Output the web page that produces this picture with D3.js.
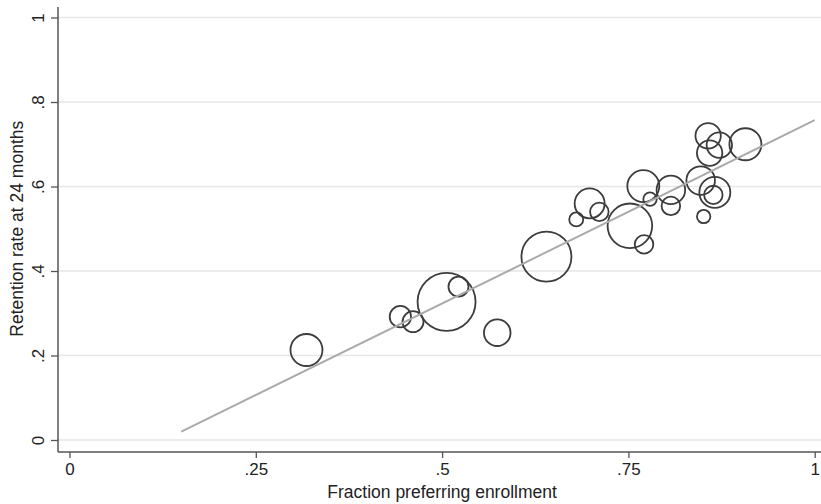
<!DOCTYPE html>
<html>
<head>
<meta charset="utf-8">
<script src="https://cdn.jsdelivr.net/npm/d3@7"></script>
<style>
  body { margin: 0; background: #fff; }
  text { font-family: "Liberation Sans", Arial, Helvetica, sans-serif; fill: #222; }
</style>
</head>
<body>
<div id="chart-area"></div>
<script>
// fraction preferring enrollment, retention at 24 months, group size (bubble weight)
var fracPref = [0.318, 0.444, 0.461, 0.506, 0.522, 0.574, 0.640, 0.680, 0.698, 0.711, 0.752, 0.771,
                0.770, 0.779, 0.807, 0.807, 0.847, 0.866, 0.864, 0.851, 0.857, 0.872, 0.859, 0.907];
var retention = [0.213, 0.292, 0.280, 0.327, 0.363, 0.254, 0.434, 0.522, 0.560, 0.540, 0.507, 0.463,
                 0.601, 0.570, 0.592, 0.554, 0.614, 0.586, 0.580, 0.529, 0.720, 0.698, 0.679, 0.700];
var weight = [256, 114, 110, 841, 100, 177, 625, 49, 225, 86, 497, 86,
              256, 45, 204, 86, 204, 240, 85, 45, 161, 161, 161, 256];

// fitted line: retention = a + b * frac, drawn from x = .15 to 1
var fitA = -0.1105, fitB = 0.8675;
var fitX = [0.15, 1];

var xTicks = [0, 0.25, 0.5, 0.75, 1];
var xTickLabels = ["0", ".25", ".5", ".75", "1"];
var yTicks = [0, 0.2, 0.4, 0.6, 0.8, 1];
var yTickLabels = ["0", ".2", ".4", ".6", ".8", "1"];

var width = 821, height = 504;
var svg = d3.select("#chart-area").append("svg")
  .attr("width", width)
  .attr("height", height);

var x = d3.scaleLinear().domain([0, 1]).range([69.5, 814.7]);
var y = d3.scaleLinear().domain([0, 1]).range([440, 17.5]);
var r = d3.scaleSqrt().domain([0, 841]).range([0, 29]);

var axisLeft = 58, axisBottom = 452, plotRight = 821, plotTop = 7;

// gridlines
svg.append("g").selectAll("line").data(yTicks).enter().append("line")
  .attr("x1", axisLeft).attr("x2", plotRight)
  .attr("y1", function(d) { return y(d); }).attr("y2", function(d) { return y(d); })
  .attr("stroke", "#e6e6e6").attr("stroke-width", 1.5);

// y axis
var yAxis = d3.axisLeft(y).tickValues(yTicks).tickSize(7).tickPadding(6)
  .tickFormat(function(d, i) { return yTickLabels[i]; });
var gy = svg.append("g").attr("transform", "translate(" + axisLeft + ",0)").call(yAxis);
gy.select(".domain").remove();
gy.selectAll(".tick line").attr("stroke", "#555").attr("stroke-width", 1.3);
gy.selectAll(".tick text")
  .attr("font-size", 17).attr("fill", "#222")
  .attr("x", null).attr("dy", null)
  .attr("text-anchor", "middle")
  .attr("transform", function() { return "translate(-14,0) rotate(-90)"; })
  .attr("y", 0);
svg.append("line")
  .attr("x1", axisLeft).attr("x2", axisLeft).attr("y1", plotTop).attr("y2", axisBottom)
  .attr("stroke", "#555").attr("stroke-width", 1.5);

// x axis
var xAxis = d3.axisBottom(x).tickValues(xTicks).tickSize(6).tickPadding(5)
  .tickFormat(function(d, i) { return xTickLabels[i]; });
var gx = svg.append("g").attr("transform", "translate(0," + axisBottom + ")").call(xAxis);
gx.select(".domain").remove();
gx.selectAll(".tick line").attr("stroke", "#555").attr("stroke-width", 1.3);
gx.selectAll(".tick text").attr("font-size", 17).attr("fill", "#222");
svg.append("line")
  .attr("x1", axisLeft).attr("x2", plotRight).attr("y1", axisBottom).attr("y2", axisBottom)
  .attr("stroke", "#555").attr("stroke-width", 1.5);

// axis titles
svg.append("text")
  .attr("x", x(0.5)).attr("y", 498)
  .attr("text-anchor", "middle").attr("font-size", 17.5)
  .text("Fraction preferring enrollment");
svg.append("text")
  .attr("transform", "translate(23," + y(0.5) + ") rotate(-90)")
  .attr("text-anchor", "middle").attr("font-size", 17.5)
  .text("Retention rate at 24 months");

// bubbles
var pts = fracPref.map(function(d, i) { return { x: d, y: retention[i], w: weight[i] }; });
svg.append("g").selectAll("circle").data(pts).enter().append("circle")
  .attr("cx", function(d) { return x(d.x); })
  .attr("cy", function(d) { return y(d.y); })
  .attr("r", function(d) { return r(d.w); })
  .attr("fill", "none")
  .attr("stroke", "#3c3c3c")
  .attr("stroke-width", 1.8);

// fitted line
var line = d3.line()
  .x(function(d) { return x(d); })
  .y(function(d) { return y(fitA + fitB * d); });
svg.append("path")
  .datum(fitX)
  .attr("d", line)
  .attr("fill", "none")
  .attr("stroke", "#aaaaaa")
  .attr("stroke-width", 2);
</script>
</body>
</html>
